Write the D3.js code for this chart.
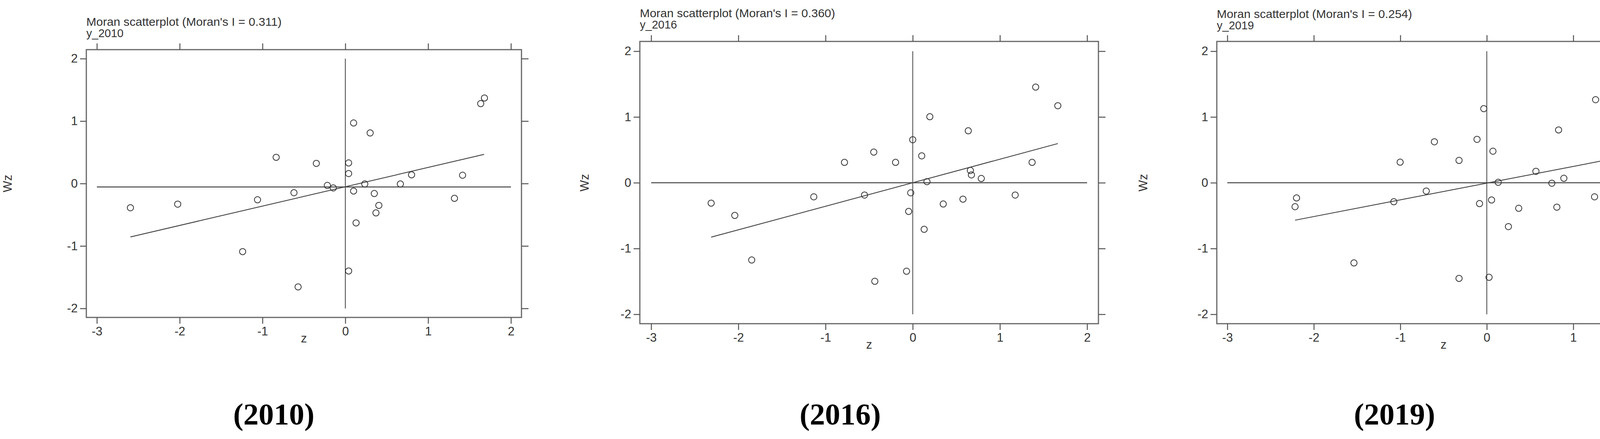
<!DOCTYPE html>
<html><head><meta charset="utf-8">
<script src="https://cdn.jsdelivr.net/npm/d3@7"></script>
<style>body{margin:0;background:#fff}</style></head>
<body><svg id="c" width="4313" height="1123"></svg>
<script>
const years = ["2010","2016","2019"];
const moranI = ["0.311","0.360","0.254"];
const xTicks = [-3,-2,-1,0,1,2];
const yTicks = [-2,-1,0,1,2];
const z2010 = [-2.595,-2.024,-1.06,-1.24,-0.835,-0.62,-0.57,-0.35,-0.217,-0.145,0.04,0.04,0.04,0.10,0.10,0.13,0.235,0.30,0.35,0.405,0.37,0.665,0.80,1.318,1.416,1.635,1.68];
const wz2010 = [-0.388,-0.33,-0.26,-1.09,0.42,-0.147,-1.655,0.323,-0.03,-0.07,0.33,0.16,-1.40,0.97,-0.12,-0.63,-0.007,0.81,-0.16,-0.35,-0.47,-0.007,0.14,-0.237,0.133,1.28,1.37];
const z2016 = [-2.312,-2.041,-1.847,-1.135,-0.783,-0.553,-0.447,-0.435,-0.197,-0.071,-0.047,-0.023,0.0,0.103,0.131,0.163,0.196,0.35,0.576,0.637,0.661,0.673,0.786,1.175,1.369,1.41,1.664];
const wz2016 = [-0.31,-0.497,-1.174,-0.214,0.31,-0.187,0.466,-1.498,0.31,-1.345,-0.436,-0.153,0.654,0.409,-0.708,0.017,1.004,-0.323,-0.249,0.79,0.187,0.119,0.065,-0.187,0.31,1.454,1.171];
const z2019 = [-2.2,-2.217,-1.536,-1.075,-1.002,-0.7,-0.606,-0.321,-0.321,-0.113,-0.084,-0.035,0.026,0.055,0.071,0.132,0.25,0.369,0.568,0.752,0.81,0.83,0.891,1.246,1.258,1.442,1.482];
const wz2019 = [-0.231,-0.364,-1.219,-0.289,0.313,-0.126,0.623,0.34,-1.454,0.66,-0.317,1.127,-1.437,-0.262,0.48,0.007,-0.667,-0.388,0.174,-0.007,-0.371,0.803,0.068,-0.214,1.263,1.038,0.269];
const regLines = [[[-2.595,-0.855],[1.676,0.467]],[[-2.312,-0.827],[1.664,0.596]],[[-2.217,-0.569],[1.482,0.371]]];
const meanWz = [-0.054,0,0];
const zs=[z2010,z2016,z2019], wzs=[wz2010,wz2016,wz2019];

const layout = [
 {x0:248,x1:1308,y0:150,y1:789,bl:221,br:1335,bt:127,bb:812,ty:66,cx:701,wzx:30},
 {x0:1667,x1:2783,y0:131,y1:804,bl:1638,br:2812,bt:106,bb:828,ty:44,cx:2151,wzx:1507},
 {x0:3142,x1:4249,y0:131,y1:804,bl:3115,br:4277,bt:106,bb:828,ty:46,cx:3570,wzx:2937}
];
const svg=d3.select("#c");
const col="#444", font="'Liberation Sans', Arial, sans-serif";
layout.forEach((L,i)=>{
  const x=d3.scaleLinear().domain([-3,2]).range([L.x0,L.x1]);
  const y=d3.scaleLinear().domain([-2,2]).range([L.y1,L.y0]);
  const g=svg.append("g");
  g.append("rect").attr("x",L.bl).attr("y",L.bt).attr("width",L.br-L.bl).attr("height",L.bb-L.bt)
    .attr("fill","none").attr("stroke","#666").attr("stroke-width",3);
  const ax=(axis,tr)=>{const a=g.append("g").attr("transform",tr).call(axis);
    a.select(".domain").remove(); a.selectAll("line").attr("stroke","#555").attr("stroke-width",2.5);
    a.selectAll("text").attr("font-family",font).attr("font-size",31).attr("fill","#333"); return a;};
  const fmt=d=>String(d);
  ax(d3.axisBottom(x).tickValues(xTicks).tickSize(16).tickPadding(8).tickFormat(fmt),`translate(0,${L.bb})`);
  ax(d3.axisTop(x).tickValues(xTicks).tickSize(16).tickFormat(""),`translate(0,${L.bt})`);
  ax(d3.axisLeft(y).tickValues(yTicks).tickSize(16).tickPadding(6).tickFormat(fmt),`translate(${L.bl},0)`);
  ax(d3.axisRight(y).tickValues(yTicks).tickSize(18).tickFormat(""),`translate(${L.br},0)`);
  g.append("line").attr("x1",x(-3)).attr("x2",x(2)).attr("y1",y(meanWz[i])).attr("y2",y(meanWz[i])).attr("stroke",col).attr("stroke-width",2.5);
  g.append("line").attr("x1",x(0)).attr("x2",x(0)).attr("y1",y(-2)).attr("y2",y(2)).attr("stroke",col).attr("stroke-width",2);
  const r=regLines[i];
  g.append("line").attr("x1",x(r[0][0])).attr("y1",y(r[0][1])).attr("x2",x(r[1][0])).attr("y2",y(r[1][1])).attr("stroke",col).attr("stroke-width",2.2);
  g.selectAll("circle.p").data(zs[i].map((v,k)=>[v,wzs[i][k]])).join("circle")
    .attr("cx",d=>x(d[0])).attr("cy",d=>y(d[1])).attr("r",8).attr("fill","none").attr("stroke","#333").attr("stroke-width",2);
  g.append("text").attr("x",L.bl).attr("y",L.ty).attr("font-family",font).attr("font-size",29).attr("fill","#333")
    .attr("textLength",500).attr("lengthAdjust","spacingAndGlyphs")
    .text(`Moran scatterplot (Moran's I = ${moranI[i]})`);
  g.append("text").attr("x",L.bl).attr("y",L.ty+29).attr("font-family",font).attr("font-size",29).attr("fill","#333").text("y_"+years[i]);
  g.append("text").attr("x",(L.x0+L.x1)/2).attr("y",L.bb+64).attr("text-anchor","middle").attr("font-family",font).attr("font-size",31).attr("fill","#333").text("z");
  g.append("text").attr("transform",`translate(${L.wzx},${(L.y0+L.y1)/2}) rotate(-90)`).attr("text-anchor","middle").attr("font-family",font).attr("font-size",31).attr("fill","#333").text("Wz");
  g.append("text").attr("x",L.cx).attr("y",1086).attr("text-anchor","middle").attr("font-family","'Liberation Serif','Times New Roman',serif")
    .attr("font-size",78).attr("font-weight","bold").attr("fill","#000").text(`(${years[i]})`);
});
</script></body></html>
